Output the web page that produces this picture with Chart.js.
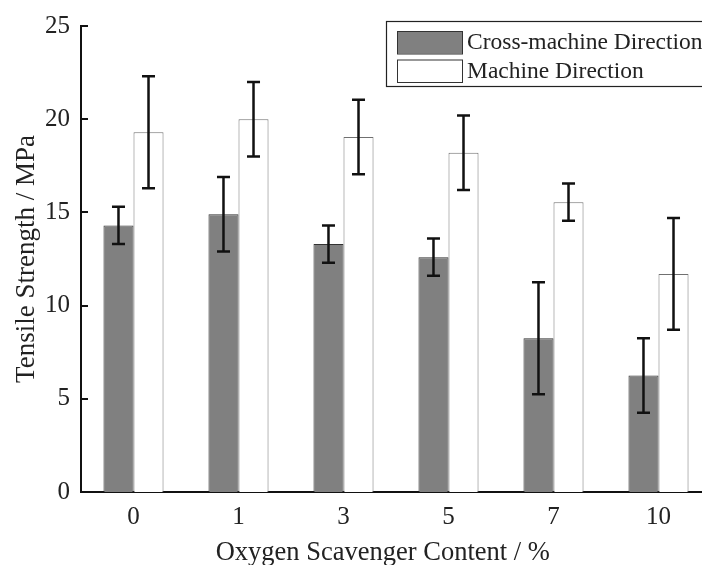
<!DOCTYPE html>
<html>
<head>
<meta charset="utf-8">
<script src="https://cdn.jsdelivr.net/npm/chart.js@4"></script>
<style>
  html, body { margin: 0; padding: 0; background: #fff; overflow: hidden; }
  canvas { display: block; }
</style>
</head>
<body>
<canvas id="tensileChart" width="720" height="565"></canvas>
<script>
  // oxygen scavenger content (%)
  var contents = ['0', '1', '3', '5', '7', '10'];
  // tensile strength, MPa
  var crossMachine = [14.3, 14.9, 13.3, 12.6, 8.25, 6.25];
  var crossMachineErr = [1.0, 2.0, 1.0, 1.0, 3.0, 2.0];
  var machine = [19.3, 20.0, 19.05, 18.2, 15.55, 11.7];
  var machineErr = [3.0, 2.0, 2.0, 2.0, 1.0, 3.0];
  var yTicks = [0, 5, 10, 15, 20, 25];

  var serif = '"Liberation Serif", "Times New Roman", serif';

  // error bars on top of each bar
  var errorBars = {
    id: 'errorBars',
    afterDatasetsDraw : function(chart) {
      var ctx = chart.ctx, y = chart.scales.y;
      var errs = [crossMachineErr, machineErr];
      ctx.save();
      ctx.strokeStyle = '#111';
      ctx.lineWidth = 2.5;
      errs.forEach(function(e, i) {
        chart.getDatasetMeta(i).data.forEach(function(bar, j) {
          var v = chart.data.datasets[i].data[j];
          var top = y.getPixelForValue(v + e[j]);
          var bot = y.getPixelForValue(v - e[j]);
          var x = bar.x, w = 6.5;
          ctx.beginPath();
          ctx.moveTo(x, top); ctx.lineTo(x, bot);
          ctx.moveTo(x - w, top); ctx.lineTo(x + w, top);
          ctx.moveTo(x - w, bot); ctx.lineTo(x + w, bot);
          ctx.stroke();
        });
      });
      ctx.restore();
    }
  };

  // y ticks pointing into the plot
  var innerTicks = {
    id: 'innerTicks',
    afterDraw : function(chart) {
      var ctx = chart.ctx, y = chart.scales.y, left = chart.chartArea.left;
      ctx.save();
      ctx.strokeStyle = '#111';
      ctx.lineWidth = 2;
      yTicks.forEach(function(t) {
        var py = Math.round(y.getPixelForValue(t));
        ctx.beginPath();
        ctx.moveTo(left, py);
        ctx.lineTo(left + 7, py);
        ctx.stroke();
      });
      ctx.restore();
    }
  };

  // boxed legend in the upper right corner
  var boxLegend = {
    id: 'boxLegend',
    afterDraw : function(chart) {
      var ctx = chart.ctx;
      var bx = 386, by = 21, bw = 340, bh = 65;
      ctx.save();
      ctx.fillStyle = '#fff';
      ctx.fillRect(bx, by, bw, bh);
      ctx.strokeStyle = '#222';
      ctx.lineWidth = 1.2;
      ctx.strokeRect(bx + 0.5, by + 0.5, bw, bh);
      ctx.font = '23.5px ' + serif;
      ctx.textBaseline = 'middle';
      chart.data.datasets.forEach(function(ds, i) {
        var sy = 31 + i * 28.5;
        ctx.fillStyle = ds.backgroundColor;
        ctx.fillRect(397, sy, 65, 22.5);
        ctx.strokeStyle = '#333';
        ctx.lineWidth = 1;
        ctx.strokeRect(397.5, sy + 0.5, 65, 22.5);
        ctx.fillStyle = '#222';
        ctx.fillText(ds.label, 467, sy + 12);
      });
      ctx.restore();
    }
  };

  var data = {
    labels: contents,
    datasets: [
      {
        label : 'Cross-machine Direction',
        data : crossMachine,
        backgroundColor : '#808080',
        borderColor : '#333333',
        borderWidth : 1,
        categoryPercentage : 0.572,
        barPercentage : 1.0,
      },
      {
        label : 'Machine Direction',
        data : machine,
        backgroundColor : '#ffffff',
        borderColor : '#707070',
        borderWidth : 1,
        categoryPercentage : 0.572,
        barPercentage : 1.0,
      },
    ]
  };

  var config = {
    type: 'bar',
    data,
    options: {
      responsive : false,
      animation : false,
      devicePixelRatio : 1,
      layout : { padding : { left : 0, top : 26, right : 9, bottom : 0 } },
      plugins : {
        legend : { display : false },
        tooltip : { enabled : false },
      },
      scales : {
        x : {
          grid : { display : false, drawTicks : false },
          border : { display : true, color : '#111', width : 2 },
          ticks : {
            color : '#222',
            padding : 10,
            font : { family : serif, size : 25 },
          },
          title : {
            display : true,
            text : 'Oxygen Scavenger Content / %    ',
            color : '#222',
            padding : { top : 0, bottom : -4 },
            font : { family : serif, size : 26.5 },
          },
          afterFit : function(scale) { scale.height = 73; },
        },
        y : {
          min : 0,
          max : 25,
          grid : { display : false, drawTicks : false },
          border : { display : true, color : '#111', width : 2 },
          afterBuildTicks : function(scale) {
            scale.ticks = yTicks.map(function(v) { return { value : v }; });
          },
          ticks : {
            color : '#222',
            padding : 11,
            font : { family : serif, size : 25 },
          },
          title : {
            display : true,
            text : 'Tensile Strength / MPa',
            color : '#222',
            padding : { top : 11, bottom : 0 },
            font : { family : serif, size : 27 },
          },
          afterFit : function(scale) { scale.width = 81; },
        }
      }
    },
    plugins : [errorBars, innerTicks, boxLegend]
  };

  var myChart = new Chart(
    document.getElementById('tensileChart'),
    config
  );
</script>
</body>
</html>
